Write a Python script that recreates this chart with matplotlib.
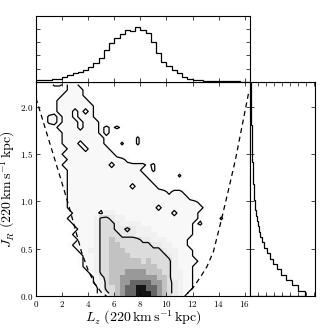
import numpy as np
import matplotlib
matplotlib.use("Agg")
import matplotlib.pyplot as plt
from matplotlib.ticker import FuncFormatter

plt.rcParams['mathtext.fontset'] = 'cm'
plt.rcParams['font.family'] = 'serif'

# ==== data ====
lz_max = 16.4   # L_z axis range (220 km/s kpc)
jr_max = 2.26   # J_R axis range

# marginal histogram of L_z (0.4 wide bins from 0)
lz_hist = [0.15, 0.16, 0.18, 0.2, 0.22, 0.4, 0.53, 0.65, 0.73, 0.9,
           1.15, 1.45, 1.83, 2.4, 2.9, 3.28, 3.6, 3.9, 3.83, 4.1,
           3.9, 3.65, 2.98, 2.2, 1.53, 1.2, 0.9, 0.65, 0.4, 0.25,
           0.17, 0.13, 0.08, 0.07, 0.06, 0.05, 0.05, 0.04, 0.04, 0.03, 0.03]

# marginal histogram of J_R (bottom to top)
jr_hist = [6.8, 5.96, 5.25, 4.5, 3.9, 3.33, 2.83, 2.5, 2.08, 1.8,
           1.5, 1.3, 1.17, 1.0, 0.88, 0.78, 0.68, 0.6, 0.54, 0.49,
           0.45, 0.41, 0.38, 0.35, 0.32, 0.3, 0.28, 0.26, 0.24, 0.22,
           0.2, 0.19, 0.17, 0.16, 0.15, 0.13, 0.12, 0.11, 0.1, 0.09]

# 2d density, one digit per cell, top row = highest J_R (missing cells on the right = 0)
dens_rows = [
    "000221221",
    "0000012221",
    "0000122221",
    "00012222221",
    "000122222221",
    "000122212121",
    "002212212221",
    "0022122212221",
    "00012222122212121",
    "000012222222121",
    "00001222222221000002",
    "00001222122221002002",
    "000001222122221",
    "0000122222222221",
    "000001222222222221",
    "00001222222222122222212",
    "00000122222222222222102",
    "0000012222222222222221000002",
    "00000122222222222222221",
    "000001222222222222122221",
    "00000122222222222222222221221",
    "000001222222222222222222222221",
    "00000122222222222222222222222221",
    "000001222222222222222221222222221",
    "00000012222213322222222222122221",
    "000001222223554332222222222222210002",
    "00000012222355543333222222222212",
    "0000000122235554454333222222221",
    "0000001222235555444333322222221",
    "000000012223556555554433322221",
    "000000122223556655555544332221",
    "0000000122335566655555554332221",
    "0000000012235566665555555432221",
    "00000000122355666666565555322221",
    "0000000012235566666666655532221",
    "0000000001235566677776665533221",
    "0000000000124566777777766533221",
    "0000000000123566778888776543221",
    "0000000000013556788998876543221",
    "000000000001345678899987654321",
]

# grey shade of each digit
grey_levels = [0.0, 0.012, 0.03, 0.055, 0.085, 0.14, 0.24, 0.4, 0.6, 0.92]

# dashed boundary curve
dash_left_lz = [0, 1, 2, 2.5, 3, 3.5, 4, 4.5, 5, 5.4]
dash_left_jr = [2.09, 1.64, 1.19, 0.96, 0.71, 0.46, 0.27, 0.13, 0.04, 0.0]
dash_right_lz = [11.4, 12.0, 12.6, 13.1, 13.6, 14.2, 14.8, 15.3, 15.8, 16.3]
dash_right_jr = [0.0, 0.08, 0.2, 0.31, 0.47, 0.8, 1.15, 1.45, 1.8, 2.15]

# ==== prepare ====
ncol = len(lz_hist)
for r in dens_rows:
    assert len(r) <= ncol, r
grid = np.array([[int(c) for c in r.ljust(ncol, "0")] for r in dens_rows[::-1]])
shade = np.array(grey_levels)[grid]

lz_edges = np.linspace(0, lz_max, len(lz_hist) + 1)
jr_edges = np.linspace(0, jr_max, len(jr_hist) + 1)
lz_mid = 0.5 * (lz_edges[1:] + lz_edges[:-1])
jr_mid = 0.5 * (jr_edges[1:] + jr_edges[:-1])


def style(a):
    a.tick_params(direction="in", top=True, right=True, length=3, width=0.5,
                  labelsize=6.5, pad=2)
    for s in a.spines.values():
        s.set_linewidth(0.8)


# ==== plot ====
fig = plt.figure(figsize=(3.32, 3.29), dpi=100)
ax = fig.add_axes([0.1084, 0.1003, 0.6446, 0.6505])
axt = fig.add_axes([0.1084, 0.7508, 0.6446, 0.2006])
axr = fig.add_axes([0.753, 0.1003, 0.1958, 0.6505])

ax.imshow(shade, extent=[0, lz_max, 0, jr_max], origin="lower", aspect="auto",
          cmap="gray_r", vmin=0, vmax=1, interpolation="nearest")
ax.contour(lz_mid, jr_mid, grid, levels=[1.5, 4.5], colors="k", linewidths=0.9)
ax.plot(dash_left_lz, dash_left_jr, color="k", lw=0.9, dashes=(4, 3))
ax.plot(dash_right_lz, dash_right_jr, color="k", lw=0.9, dashes=(4, 3))
ax.set_xlim(0, lz_max)
ax.set_ylim(0, jr_max)
ax.set_xticks(np.arange(0, 17, 2))
ax.set_yticks([0, 0.5, 1.0, 1.5, 2.0])
ax.xaxis.set_major_formatter(FuncFormatter(lambda v, p: r"$%d$" % v))
ax.yaxis.set_major_formatter(FuncFormatter(lambda v, p: r"$%.1f$" % v))
ax.set_xlabel(r"$L_z\ (220\,\mathrm{km\,s^{-1}\,kpc})$", fontsize=10, labelpad=0)
ax.set_ylabel(r"$J_R\ (220\,\mathrm{km\,s^{-1}\,kpc})$", fontsize=10, labelpad=2)
style(ax)

axt.stairs(lz_hist, lz_edges, color="k", lw=0.9)
axt.set_xlim(0, lz_max)
axt.set_ylim(0, 4.96)
axt.set_xticks(np.arange(0, 17, 2))
axt.set_yticks([1, 2, 3, 4])
style(axt)
axt.tick_params(labelbottom=False, labelleft=False)

axr.stairs(jr_hist, jr_edges, orientation="horizontal", color="k", lw=0.9)
axr.set_ylim(0, jr_max)
axr.set_xlim(0, 8.1)
axr.set_xticks(np.arange(0, 9, 1))
axr.set_yticks([0.5, 1.0, 1.5, 2.0])
style(axr)
axr.tick_params(labelbottom=False, labelleft=False)

fig.savefig("out.png", dpi=100)
